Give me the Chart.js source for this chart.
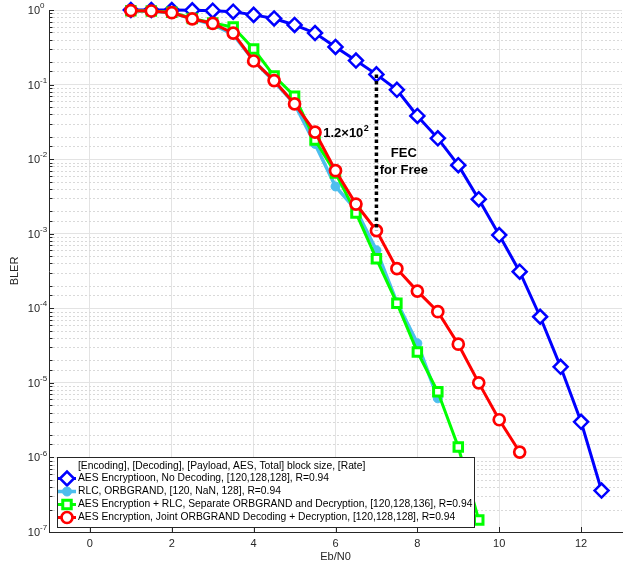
<!DOCTYPE html>
<html><head><meta charset="utf-8">
<script src="https://cdn.jsdelivr.net/npm/chart.js"></script>
<style>html,body{margin:0;padding:0;background:#fff;}canvas{display:block;}</style>
</head><body>
<canvas id="c" width="634" height="568"></canvas>
<script>
// ---------------- data ----------------
const ebn0Blue  = [1,1.5,2,2.5,3,3.5,4,4.5,5,5.5,6,6.5,7,7.5,8,8.5,9,9.5,10,10.5,11,11.5,12,12.5];
const blerBlue  = [1.0,1.0,1.0,0.99,0.98,0.95,0.86,0.77,0.63,0.49,0.32,0.21,0.137,0.085,0.038,0.019,0.0083,0.0029,0.00096,0.00031,7.7e-5,1.64e-5,3.0e-6,3.6e-7];
const ebn0Cyan  = [1,1.5,2,2.5,3,3.5,4,4.5,5,5.5,6,6.5,7,7.5,8,8.5];
const blerCyan  = [0.98,0.96,0.92,0.76,0.64,0.47,0.21,0.11,0.055,0.016,0.0043,0.0021,6.0e-4,1.2e-4,3.4e-5,6.2e-6];
const ebn0Green = [1,1.5,2,2.5,3,3.5,4,4.5,5,5.5,6,6.5,7,7.5,8,8.5,9,9.5];
const blerGreen = [0.98,0.97,0.93,0.77,0.67,0.59,0.30,0.13,0.070,0.018,0.0065,0.0019,4.6e-4,1.17e-4,2.6e-5,7.6e-6,1.38e-6,1.45e-7];
const ebn0Red   = [1,1.5,2,2.5,3,3.5,4,4.5,5,5.5,6,6.5,7,7.5,8,8.5,9,9.5,10,10.5];
const blerRed   = [0.98,0.97,0.92,0.76,0.66,0.49,0.207,0.113,0.055,0.023,0.0070,0.0025,0.0011,3.4e-4,1.7e-4,9.0e-5,3.3e-5,1.0e-5,3.2e-6,1.18e-6];

const seriesNames = [
  'AES Encryptioon, No Decoding, [120,128,128], R=0.94',
  'RLC, ORBGRAND, [120, NaN, 128], R=0.94',
  'AES Encryption + RLC, Separate ORBGRAND and Decryption, [120,128,136], R=0.94',
  'AES Encryption, Joint ORBGRAND Decoding + Decryption, [120,128,128], R=0.94'
];
const legendTitle = '[Encoding], [Decoding], [Payload, AES, Total] block size, [Rate]';
const xTicks = [0,2,4,6,8,10,12];
const yDecades = [0,-1,-2,-3,-4,-5,-6,-7];
const fecLineX = [7,7];
const fecLineY = [0.137,0.0011];
const gainText = ['1.2\u00d710','2'];
const gainPos = [5.7,0.022];
const fecText = ['FEC','for Free'];
const fecTextPos = [[7.67,0.012],[7.67,0.0070]];
const xTitle = 'Eb/N0';
const yTitle = 'BLER';

// ---------------- styles ----------------
const FONT = '"Liberation Sans", Arial, Helvetica, sans-serif';
Chart.defaults.font.family = FONT;
const AX = '#262626';
const toPts = (xs, ys) => xs.map((x,i)=>({x:x, y:ys[i]}));
const isMajor = v => Math.abs(Math.log10(v) - Math.round(Math.log10(v))) < 1e-6;

const styles = [
  {color:'#0000ff', pointStyle:'rectRot', r:7,   bw:2.5, fill:'#ffffff', lw:3},
  {color:'#4dbeee', pointStyle:'circle',  r:4.5, bw:1,   fill:'#4dbeee', lw:3.5},
  {color:'#00ff00', pointStyle:'rect',    r:6,   bw:3,   fill:'#ffffff', lw:3},
  {color:'#ff0000', pointStyle:'circle',  r:5.5, bw:2.7, fill:'#ffffff', lw:3}
];
function mk(i, xs, ys, order){
  const s = styles[i];
  return {label: seriesNames[i], data: toPts(xs, ys), borderColor: s.color, backgroundColor: s.color,
    borderWidth: s.lw, pointStyle: s.pointStyle, pointRadius: s.r, pointBorderWidth: s.bw,
    pointBackgroundColor: s.fill, pointBorderColor: s.color, pointHoverRadius: s.r,
    tension: 0, order: order, clip: 12};
}

const plugin = {
  id: 'matlabDecor',
  beforeDatasetsDraw(chart){
    const {ctx, chartArea:a, scales:{y}} = chart;
    ctx.save();
    ctx.strokeStyle = '#d9d9d9';
    ctx.lineWidth = 1;
    ctx.setLineDash([2,2]);
    y.ticks.forEach(t=>{
      if (isMajor(t.value)) return;
      const py = Math.round(y.getPixelForValue(t.value)) + 0.5;
      ctx.beginPath(); ctx.moveTo(a.left, py); ctx.lineTo(a.right, py); ctx.stroke();
    });
    ctx.restore();
  },
  afterDatasetsDraw(chart){
    const {ctx, chartArea:a, scales:{x, y}} = chart;
    ctx.save();
    // ticks (inside)
    ctx.strokeStyle = AX; ctx.lineWidth = 1; ctx.setLineDash([]);
    xTicks.forEach(v=>{
      const px = Math.round(x.getPixelForValue(v)) + 0.5;
      ctx.beginPath(); ctx.moveTo(px, a.bottom); ctx.lineTo(px, a.bottom-5); ctx.stroke();
    });
    y.ticks.forEach(t=>{
      const py = Math.round(y.getPixelForValue(t.value)) + 0.5;
      const len = isMajor(t.value) ? 5 : 3.5;
      ctx.beginPath(); ctx.moveTo(a.left, py); ctx.lineTo(a.left+len, py); ctx.stroke();
    });
    // x tick labels
    ctx.fillStyle = AX;
    ctx.font = '11px ' + FONT;
    ctx.textAlign = 'center'; ctx.textBaseline = 'middle';
    xTicks.forEach(v=> ctx.fillText(String(v), x.getPixelForValue(v), a.bottom + 12));
    // y tick labels 10^n
    yDecades.forEach(e=>{
      const py = y.getPixelForValue(Math.pow(10,e));
      ctx.font = '11px ' + FONT; ctx.textAlign = 'right'; ctx.textBaseline = 'middle';
      ctx.fillText('10', 40, py + 1);
      ctx.font = '8px ' + FONT; ctx.textAlign = 'left';
      ctx.fillText(e === 0 ? '0' : '-' + Math.abs(e), 40, py - 4);
    });
    // axis titles
    ctx.font = '11px ' + FONT; ctx.textAlign = 'center'; ctx.textBaseline = 'middle';
    ctx.fillText(xTitle, (a.left + a.right)/2, 557);
    ctx.save(); ctx.translate(15, (a.top + a.bottom)/2); ctx.rotate(-Math.PI/2);
    ctx.fillText(yTitle, 0, 0); ctx.restore();
    // annotations
    ctx.fillStyle = '#000';
    ctx.font = 'bold 13px ' + FONT; ctx.textAlign = 'left'; ctx.textBaseline = 'middle';
    const gx = x.getPixelForValue(gainPos[0]), gy = y.getPixelForValue(gainPos[1]);
    ctx.fillText(gainText[0], gx, gy);
    const gw = ctx.measureText(gainText[0]).width;
    ctx.font = 'bold 9px ' + FONT;
    ctx.fillText(gainText[1], gx + gw + 0.5, gy - 5);
    ctx.font = 'bold 13px ' + FONT; ctx.textAlign = 'center';
    fecText.forEach((t,i)=> ctx.fillText(t, x.getPixelForValue(fecTextPos[i][0]), y.getPixelForValue(fecTextPos[i][1])));
    // legend
    const L = {x:57, y:457, w:417, h:70};
    ctx.fillStyle = '#fff'; ctx.fillRect(L.x, L.y, L.w, L.h);
    ctx.strokeStyle = AX; ctx.lineWidth = 1;
    ctx.strokeRect(L.x + 0.5, L.y + 0.5, L.w, L.h);
    ctx.fillStyle = '#000'; ctx.font = '10.3px ' + FONT; ctx.textAlign = 'left'; ctx.textBaseline = 'middle';
    ctx.fillText(legendTitle, 78, 466);
    const rows = [478.5, 491.5, 504.5, 517.5];
    chart.data.datasets.slice(0,4).forEach((ds,i)=>{
      const ry = rows[i], s = styles[i];
      ctx.strokeStyle = s.color; ctx.lineWidth = s.lw; ctx.setLineDash([]);
      ctx.beginPath(); ctx.moveTo(58, ry); ctx.lineTo(76, ry); ctx.stroke();
      ctx.fillStyle = s.fill; ctx.strokeStyle = s.color; ctx.lineWidth = s.bw;
      Chart.helpers.drawPoint(ctx, {pointStyle: s.pointStyle, radius: s.r, borderWidth: s.bw, rotation: 0}, 67, ry);
      ctx.fillStyle = '#000';
      ctx.fillText(ds.label, 78, ry);
    });
    ctx.restore();
  }
};

new Chart(document.getElementById('c'), {
  type: 'line',
  data: {
    datasets: [
      mk(0, ebn0Blue, blerBlue, 4),
      mk(1, ebn0Cyan, blerCyan, 3),
      mk(2, ebn0Green, blerGreen, 2),
      mk(3, ebn0Red, blerRed, 1),
      {label: 'fec', data: toPts(fecLineX, fecLineY), borderColor: '#000', borderWidth: 3.5,
       borderDash: [3.5, 3], pointRadius: 0, order: 0, tension: 0}
    ]
  },
  options: {
    responsive: false, animation: false, devicePixelRatio: 1,
    layout: {padding: {left: 49, right: 12, top: 10, bottom: 36}},
    plugins: {legend: {display: false}, tooltip: {enabled: false}},
    events: [],
    scales: {
      x: {type: 'linear', min: -1, max: 13,
          afterBuildTicks: axis => { axis.ticks = xTicks.map(v => ({value: v})); },
          ticks: {display: false},
          grid: {color: '#e3e3e3', drawTicks: false, lineWidth: 1},
          border: {display: true, color: AX, width: 1}},
      y: {type: 'logarithmic', min: 1e-7, max: 1,
          ticks: {display: false},
          grid: {color: c => (c.tick && isMajor(c.tick.value)) ? '#e3e3e3' : 'rgba(0,0,0,0)', drawTicks: false, lineWidth: 1},
          border: {display: true, color: AX, width: 1}}
    }
  },
  plugins: [plugin]
});
</script>
</body></html>
